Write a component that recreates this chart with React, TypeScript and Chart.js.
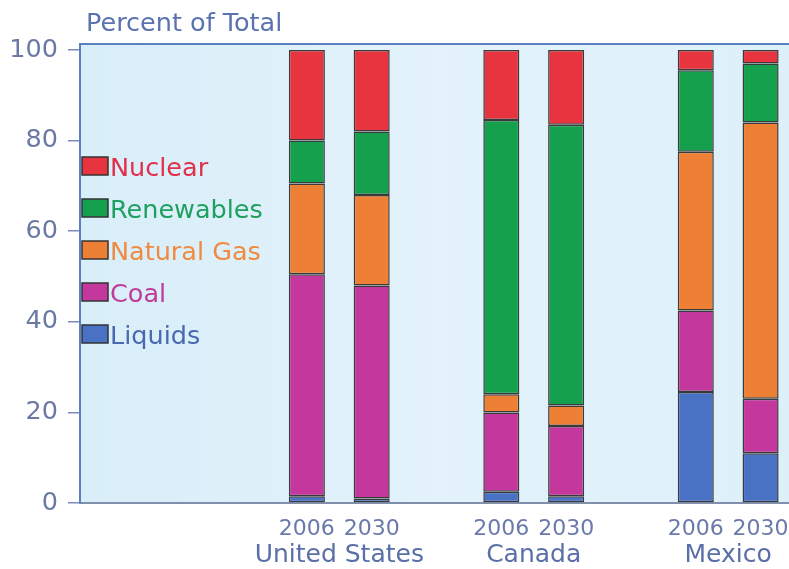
import React, { useEffect, useRef } from "react";
import { Chart, registerables } from "chart.js";

Chart.register(...registerables);

// ---- data ----
const categories = ["", "", "", "2006", "2030", "", "2006", "2030", "", "2006", "2030"];
const groupNames = ["United States", "Canada", "Mexico"];
const yTicks = [0, 20, 40, 60, 80, 100];

const liquids = [null, null, null, 1.5, 1, null, 2.5, 1.5, null, 24.5, 11];
const coal = [null, null, null, 49, 47, null, 17.5, 15.5, null, 18, 12];
const naturalGas = [null, null, null, 20, 20, null, 4, 4.5, null, 35, 61];
const renewables = [null, null, null, 9.5, 14, null, 60.5, 62, null, 18, 13];
const nuclear = [null, null, null, 20, 18, null, 15.5, 16.5, null, 4.5, 3];

const seriesNames = ["Liquids", "Coal", "Natural Gas", "Renewables", "Nuclear"];
const seriesValues = [liquids, coal, naturalGas, renewables, nuclear];
const barColors = ["#4a72c4", "#c4389e", "#ee8035", "#14a04c", "#e8343f"];
const textColors = ["#4a68b0", "#c03a9a", "#f08a40", "#20a060", "#e0304a"];

const FONT = "'DejaVu Sans', sans-serif";

// group label positions on a boundary axis (12 boundaries for 11 slots)
const groupTickLabels: string[] = new Array(categories.length + 1).fill("");
groupNames.forEach((n, i) => {
  groupTickLabels[4 + 3 * i] = n;
});

const bgPlugin = {
  id: "bgPlugin",
  beforeDraw(chart: any) {
    const { ctx, chartArea } = chart;
    const { left, top, right, bottom } = chartArea;
    const g = ctx.createLinearGradient(left, 0, right, 0);
    g.addColorStop(0, "#d8eef9");
    g.addColorStop(0.5, "#e3f2fb");
    g.addColorStop(1, "#ddf0fa");
    ctx.save();
    ctx.fillStyle = g;
    ctx.fillRect(left, top, right - left, bottom - top);
    ctx.restore();
  },
  afterDraw(chart: any) {
    const { ctx, chartArea } = chart;
    ctx.save();
    ctx.strokeStyle = "#5a80c0";
    ctx.lineWidth = 2;
    ctx.beginPath();
    ctx.moveTo(chartArea.left, chartArea.top);
    ctx.lineTo(chartArea.right, chartArea.top);
    ctx.stroke();
    // title
    ctx.fillStyle = "#5a72b0";
    ctx.font = `25.5px ${FONT}`;
    ctx.textBaseline = "alphabetic";
    ctx.textAlign = "left";
    ctx.fillText("Percent of Total", chartArea.left + 6, 31);
    ctx.restore();
  },
};

const legendPlugin = {
  id: "legendPlugin",
  afterDatasetsDraw(chart: any) {
    const { ctx, chartArea } = chart;
    const ds = chart.data.datasets;
    const x0 = chartArea.left + 2;
    const top0 = chartArea.top + 113;
    const step = 42;
    ctx.save();
    ctx.font = `25.5px ${FONT}`;
    ctx.textBaseline = "alphabetic";
    ctx.textAlign = "left";
    for (let k = 0; k < ds.length; k++) {
      const i = ds.length - 1 - k;
      const y = top0 + k * step;
      ctx.fillStyle = ds[i].backgroundColor;
      ctx.fillRect(x0, y, 26, 18);
      ctx.strokeStyle = "#333";
      ctx.lineWidth = 1.5;
      ctx.strokeRect(x0, y, 26, 18);
      ctx.fillStyle = textColors[i];
      ctx.fillText(ds[i].label, x0 + 28, y + 19);
    }
    ctx.restore();
  },
};

export default function App() {
  const ref = useRef<HTMLCanvasElement>(null);
  useEffect(() => {
    if (!ref.current) return;
    const chart = new Chart(ref.current, {
      type: "bar",
      data: {
        labels: categories,
        datasets: seriesNames.map((name, i) => ({
          label: name,
          data: seriesValues[i] as any,
          backgroundColor: barColors[i],
          borderColor: "#3a3a3a",
          borderWidth: 1.5,
          borderSkipped: false,
          barPercentage: 0.556,
          categoryPercentage: 1,
        })),
      },
      options: {
        animation: false,
        responsive: false,
        layout: { padding: { top: 44, left: 0, right: 0, bottom: 0 } },
        plugins: {
          legend: { display: false },
          tooltip: { enabled: false },
          title: { display: false },
        },
        scales: {
          x: {
            stacked: true,
            offset: true,
            grid: {
              display: true,
              drawOnChartArea: false,
              drawTicks: true,
              tickLength: 15,
              color: "rgba(0,0,0,0)",
            },
            border: { display: true, color: "#8190aa", width: 2 },
            ticks: {
              autoSkip: false,
              maxRotation: 0,
              minRotation: 0,
              padding: 0,
              color: "#6a7aaa",
              font: { family: FONT, size: 22, lineHeight: 1 },
            },
            afterFit(scale: any) {
              scale.height = 35;
            },
          },
          x2: {
            type: "category",
            position: "bottom",
            labels: groupTickLabels,
            offset: false,
            grid: {
              display: true,
              drawOnChartArea: false,
              drawTicks: true,
              tickLength: 5,
              color: "rgba(0,0,0,0)",
            },
            border: { display: false },
            ticks: {
              autoSkip: false,
              maxRotation: 0,
              minRotation: 0,
              padding: 0,
              color: "#5a6fa8",
              font: { family: FONT, size: 25, lineHeight: 1 },
            },
            afterFit(scale: any) {
              scale.height = 31;
            },
          },
          y: {
            stacked: true,
            min: 0,
            max: 101.3,
            grid: {
              drawOnChartArea: false,
              drawTicks: true,
              tickLength: 12,
              color: "#7a8cb5",
              lineWidth: 1.5,
            },
            border: { display: true, color: "#5a80c0", width: 2 },
            afterBuildTicks(scale: any) {
              scale.ticks = yTicks.map((v) => ({ value: v }));
            },
            ticks: {
              padding: 10,
              color: "#6a7aa5",
              font: { family: FONT, size: 25.5 },
            },
            afterFit(scale: any) {
              scale.width = 80;
            },
          },
        },
      },
      plugins: [bgPlugin, legendPlugin],
    });
    return () => chart.destroy();
  }, []);

  return (
    <div style={{ width: 773, height: 553 }}>
      <div
        style={{
          position: "fixed",
          left: 0,
          top: 0,
          width: 789,
          height: 569,
          overflow: "hidden",
          background: "#ffffff",
        }}
      >
        <canvas ref={ref} width={793} height={569} style={{ display: "block", width: 793, height: 569 }} />
      </div>
    </div>
  );
}
